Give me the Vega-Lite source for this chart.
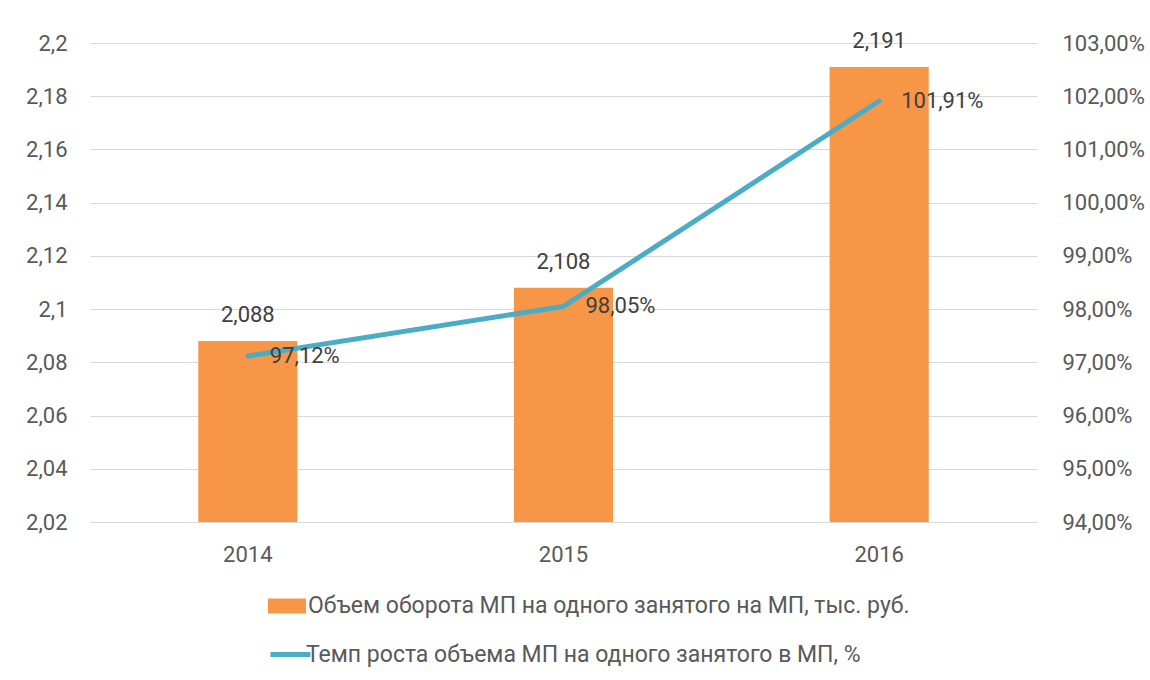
{
  "$schema": "https://vega.github.io/schema/vega-lite/v6.json",
  "autosize": {"type": "none"},
  "padding": {"left": 90, "top": 43, "right": 113, "bottom": 158},
  "width": 947,
  "height": 479,
  "background": "white",
  "config": {
    "locale": {"number": {"decimal": ",", "thousands": " ", "grouping": [3], "currency": ["", " ₽"]}},
    "font": "Roboto",
    "view": {"stroke": null},
    "axis": {"labelFont": "Roboto", "labelFontSize": 22, "labelColor": "#595959", "ticks": false, "domain": false, "title": null},
    "legend": {"labelFont": "Roboto", "labelFontSize": 23, "labelColor": "#595959", "padding": 0, "title": null}
  },
  "data": {
    "values": [
      {"year": "2014", "vol": 2.088, "rate": 0.9712, "s1": "Объем оборота МП на одного занятого на МП, тыс. руб.", "s2": "Темп роста объема МП на одного занятого в МП, %"},
      {"year": "2015", "vol": 2.108, "rate": 0.9805, "s1": "Объем оборота МП на одного занятого на МП, тыс. руб.", "s2": "Темп роста объема МП на одного занятого в МП, %"},
      {"year": "2016", "vol": 2.191, "rate": 1.0191, "s1": "Объем оборота МП на одного занятого на МП, тыс. руб.", "s2": "Темп роста объема МП на одного занятого в МП, %"}
    ]
  },
  "encoding": {
    "x": {
      "field": "year", "type": "nominal",
      "scale": {"paddingInner": 0.686, "paddingOuter": 0.343},
      "axis": {"labelAngle": 0, "domain": true, "domainColor": "#D9D9D9", "domainWidth": 1, "labelPadding": 22}
    }
  },
  "layer": [
    {
      "layer": [
        {
          "mark": {"type": "bar", "color": "#F79646"},
          "encoding": {
            "y": {
              "field": "vol", "type": "quantitative",
              "scale": {"domain": [2.02, 2.2], "zero": false, "nice": false},
              "axis": {"values": [2.02, 2.04, 2.06, 2.08, 2.1, 2.12, 2.14, 2.16, 2.18, 2.2], "format": ".2~f", "grid": true, "gridColor": "#D9D9D9", "gridWidth": 1, "labelPadding": 23, "orient": "left"}
            },
            "y2": {"datum": 2.02},
            "fill": {
              "field": "s1", "type": "nominal",
              "scale": {"range": ["#F79646"]},
              "legend": {
                "orient": "none", "legendX": 178, "legendY": 544,
                "symbolType": "M-1,-0.4H1V0.4H-1Z", "symbolSize": 1444, "symbolStrokeWidth": 0,
                "symbolOpacity": 1, "labelOffset": 2, "labelLimit": 800
              }
            }
          }
        },
        {
          "mark": {"type": "text", "baseline": "middle", "dy": -26, "fontSize": 22, "color": "#404040", "font": "Roboto"},
          "encoding": {
            "y": {"field": "vol", "type": "quantitative"},
            "text": {"field": "vol", "type": "quantitative", "format": ".3f"}
          }
        }
      ]
    },
    {
      "layer": [
        {
          "mark": {"type": "line", "strokeWidth": 5, "strokeCap": "round", "color": "#4BACC6"},
          "encoding": {
            "y": {
              "field": "rate", "type": "quantitative",
              "scale": {"domain": [0.94, 1.03], "zero": false, "nice": false},
              "axis": {"orient": "right", "values": [0.94, 0.95, 0.96, 0.97, 0.98, 0.99, 1.0, 1.01, 1.02, 1.03], "format": ".2%", "grid": false, "labelPadding": 25}
            },
            "stroke": {
              "field": "s2", "type": "nominal",
              "scale": {"range": ["#4BACC6"]},
              "legend": {
                "orient": "none", "legendX": 178, "legendY": 589,
                "symbolType": "stroke", "symbolSize": 1600, "symbolStrokeWidth": 5,
                "labelOffset": -7, "labelLimit": 800
              }
            }
          }
        },
        {
          "mark": {"type": "text", "align": "left", "baseline": "middle", "dx": 22, "fontSize": 22, "color": "#404040", "font": "Roboto"},
          "encoding": {
            "y": {"field": "rate", "type": "quantitative"},
            "text": {"field": "rate", "type": "quantitative", "format": ".2%"}
          }
        }
      ]
    }
  ],
  "resolve": {"scale": {"y": "independent"}}
}
